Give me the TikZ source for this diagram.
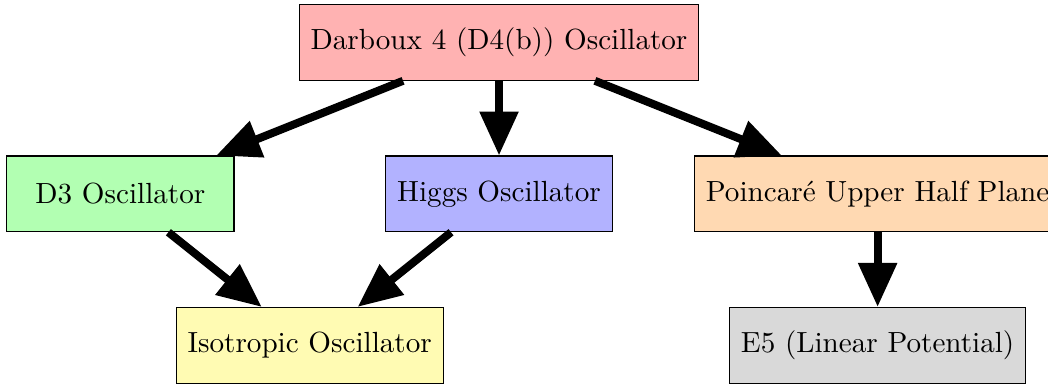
\documentclass[tikz,border=0pt,11pt]{standalone}
\usetikzlibrary{arrows.meta}

\begin{document}
\begin{tikzpicture}[
	box/.style={rectangle,draw,minimum width=3cm,minimum height=1cm,inner sep=4.3pt},
	link/.style={line width=3pt,-{Triangle[length=16.5pt,width=14pt]}}]
\useasboundingbox (-6.59,-4.5) rectangle (7.25,0.56);
%%%  define systems
\node[box,fill=red!30]    (D4)  at (0,0)   {Darboux 4 (D4(b)) Oscillator};
\node[box,fill=green!30]  (D3)  at (-5,-2) {D3 Oscillator};
\node[box,fill=blue!30]   (Hig) at (0,-2)  {Higgs Oscillator};
\node[box,fill=orange!30] (PUH) at (5,-2)  {Poincaré Upper Half Plane};
\node[box,fill=yellow!30] (Iso) at (-2.5,-4) {Isotropic Oscillator};
\node[box,fill=gray!30]   (E5)  at (5,-4)  {E5 (Linear Potential)};

%%%%%%%%% draw links %%%%%%%%
\foreach \a/\b in {D4/D3,D4/Hig,D4/PUH,D3/Iso,Hig/Iso,PUH/E5}{%
	\draw[link] (\a)--(\b);}
\end{tikzpicture}
\end{document}
